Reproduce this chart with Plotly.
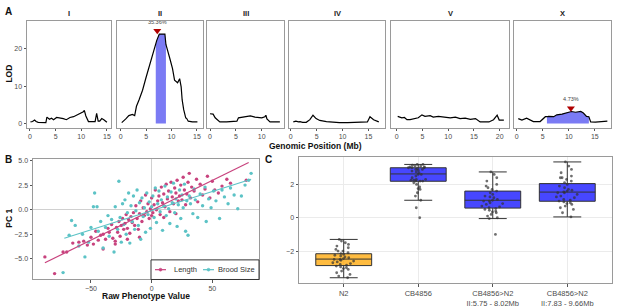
import plotly.graph_objects as go

# ---------------- DATA ----------------
chrom_names = ["I", "II", "III", "IV", "V", "X"]

chrI_pos = [0.1, 0.5, 0.9, 1.2, 1.6, 2.5, 3.1, 3.3, 3.8, 4.2, 4.6, 5.2, 5.8, 6.5, 7.1, 7.8, 8.5, 9.1, 9.6, 10.1, 10.4, 10.6, 10.9, 11.4, 12.0, 12.7, 13.0, 13.3, 13.6, 14.0, 14.4, 14.8, 15.0]
chrI_lod = [0.4, 0.5, 0.9, 0.5, 0.3, 0.2, 0.2, 1.7, 1.1, 1.4, 1.0, 1.6, 1.5, 1.3, 1.0, 1.6, 1.8, 2.2, 2.5, 2.8, 3.1, 3.5, 2.0, 0.5, 0.5, 0.5, 2.7, 0.6, 0.6, 1.3, 1.0, 0.4, 0.3]

chrII_pos = [0.2, 0.6, 1.0, 1.6, 2.3, 2.75, 3.1, 3.6, 4.3, 5.0, 5.6, 6.3, 6.6, 6.9, 7.1, 7.6, 8.2, 8.7, 8.9, 9.2, 9.7, 10.2, 10.6, 11.2, 11.6, 11.9, 12.1, 12.4, 12.8, 13.0, 13.3, 14.1, 15.1]
chrII_lod = [0.2, 0.6, 1.2, 2.1, 2.4, 2.1, 4.6, 6.3, 8.9, 12.4, 15.1, 18.6, 20.3, 21.2, 22.3, 24.0, 24.0, 24.0, 21.2, 19.5, 17.3, 14.7, 11.6, 10.9, 12.0, 9.8, 6.3, 3.7, 1.5, 1.3, 0.6, 0.4, 0.4]

chrIII_pos = [0.0, 0.6, 1.0, 1.4, 1.9, 3.2, 4.5, 5.2, 5.5, 6.5, 7.8, 8.7, 10.0, 10.6, 10.8, 11.0, 11.6, 13.5]
chrIII_lod = [2.6, 2.5, 1.5, 0.9, 0.4, 0.4, 0.5, 0.6, 1.5, 1.8, 2.0, 1.7, 1.5, 1.8, 2.2, 1.2, 0.4, 0.4]

chrIV_pos = [0.5, 1.0, 1.5, 1.8, 2.3, 3.0, 3.7, 4.3, 4.9, 5.6, 6.9, 8.0, 9.4, 11.0, 13.2, 14.8, 15.3, 16.0, 17.0]
chrIV_lod = [0.4, 0.6, 0.4, 0.5, 0.3, 0.3, 1.0, 2.2, 1.3, 0.8, 0.5, 0.3, 0.2, 0.2, 0.2, 0.4, 1.8, 1.0, 0.4]

chrV_pos = [0.2, 1.0, 1.5, 2.0, 2.6, 3.6, 4.2, 4.9, 5.5, 6.5, 7.1, 8.1, 9.1, 10.4, 11.4, 12.3, 13.3, 14.3, 15.3, 16.2, 17.9, 18.8, 19.5, 19.9, 20.8]
chrV_lod = [1.9, 1.5, 1.6, 1.0, 1.0, 1.3, 1.5, 2.3, 1.9, 2.1, 1.7, 1.9, 1.7, 1.5, 1.7, 1.3, 1.4, 1.1, 1.3, 0.4, 0.4, 1.0, 2.2, 0.9, 0.9]

chrX_pos = [0.3, 1.0, 1.9, 2.6, 3.2, 4.5, 5.5, 5.8, 6.1, 7.1, 7.7, 8.7, 9.7, 10.5, 11.3, 12.3, 12.8, 13.4, 13.85, 14.2, 15.1, 16.1, 17.4]
chrX_lod = [1.3, 0.9, 1.4, 1.0, 0.5, 0.5, 1.8, 1.8, 1.9, 1.8, 2.3, 2.5, 2.8, 3.2, 3.0, 3.2, 2.8, 1.9, 1.8, 0.4, 0.35, 0.5, 0.6]

profile_pos = [chrI_pos, chrII_pos, chrIII_pos, chrIV_pos, chrV_pos, chrX_pos]
profile_lod = [chrI_lod, chrII_lod, chrIII_lod, chrIV_lod, chrV_lod, chrX_lod]

peak_chrom = ["II", "X"]
peak_pos = [7.2, 10.4]
peak_lod = [24.0, 3.2]
peak_var_exp = ["35.36%", "4.73%"]
ci_left = [6.9, 5.8]
ci_right = [8.9, 13.85]

# Panel B: raw phenotype vs PC1
length_x = [-88, -80, -73, -70, -65, -60, -56, -53, -50, -48, -46, -44, -42, -40, -40, -38, -36, -35, -33, -32, -30, -30, -29, -28, -27, -26, -25, -24, -23, -22, -21, -20, -20, -19, -18, -17, -16, -15, -14, -13, -12, -11, -10, -10, -9, -8, -7, -6, -5, -4, -3, -2, -1, 0, 0, 1, 2, 3, 4, 5, 6, 7, 8, 9, 10, 10, 11, 12, 13, 14, 15, 16, 17, 18, 19, 20, 20, 21, 22, 23, 24, 25, 26, 27, 28, 29, 30, 31, 32, 33, 35, 37, 38, 40, 42, 44, 46, 48, 50, 52, 55, 58, 62, 65, 78]
length_y = [-4.8, -6.5, -4.3, -4.3, -3.4, -3.3, -3.2, -3.6, -2.8, -3.5, -2.2, -3.1, -2.6, -2.5, -4.0, -3.0, -1.9, -2.3, -1.5, -2.9, -3.2, -3.5, -1.8, -2.3, -1.2, -2.7, -1.6, -0.9, -2.0, -1.4, -0.5, -1.9, -3.0, -1.0, -2.4, -0.7, -1.3, -0.3, -1.6, 0.4, -0.9, -2.0, -0.4, -2.8, 0.9, -1.2, 0.2, -0.6, 1.5, -0.2, 0.6, -0.9, 0.1, 1.2, -0.6, -0.3, 0.5, 2.0, 0.0, 0.9, 1.4, -0.5, 2.3, 0.7, 1.6, -0.8, 0.3, 2.6, 1.1, 1.9, -0.2, 2.8, 1.3, 0.6, 2.2, 1.7, -0.4, 3.0, 0.9, 1.4, 2.5, 1.0, 3.3, 2.0, 0.5, 1.6, 2.8, 3.7, 1.2, 2.3, 1.9, 3.1, 0.8, 2.6, 1.5, 2.1, 3.4, 1.2, 2.9, 2.0, 1.7, 2.4, 3.1, 2.7, 3.0]

brood_x = [-73, -68, -66, -63, -60, -57, -55, -52, -50, -48, -47, -45, -44, -42, -40, -38, -36, -35, -33, -31, -30, -28, -27, -26, -25, -24, -23, -22, -21, -20, -19, -18, -17, -16, -15, -14, -13, -12, -11, -10, -9, -8, -7, -6, -5, -4, -3, -2, -1, 0, 1, 2, 3, 4, 5, 6, 7, 8, 9, 10, 11, 12, 13, 14, 15, 16, 17, 18, 19, 20, 21, 22, 23, 24, 25, 26, 27, 28, 29, 30, 31, 32, 34, 35, 36, 38, 40, 42, 44, 45, 47, 49, 51, 53, 56, 58, 60, 63, 65, 68, 71, 74, 77, 80, 82]
brood_y = [-6.4, -2.6, -1.1, -1.6, -3.7, -2.5, -4.8, -3.3, -1.8, 0.3, 1.7, 0.3, -2.2, -1.2, -3.9, -1.8, -0.6, -2.7, -1.0, -4.3, 0.3, -2.0, 2.9, -0.8, -3.3, 0.6, -1.5, 1.0, -2.5, -0.3, 1.7, -3.4, 0.4, -1.2, 1.4, -2.0, -0.1, 2.0, -1.6, 0.7, -3.0, 1.2, -0.7, 0.2, -2.3, 1.7, -0.5, 0.8, -1.9, 0.3, 1.4, -0.8, 2.2, -1.3, 0.6, 1.9, -0.2, 1.0, -2.1, 0.4, 2.4, -0.6, 1.3, 0.1, -1.4, 1.8, 0.7, 2.7, -0.3, 1.1, -1.7, 0.5, 2.0, -0.9, 1.5, 0.2, 2.6, -2.2, 0.9, -2.6, 1.4, 0.6, -0.4, 2.1, 1.0, -0.8, 1.6, 0.4, 2.3, -1.2, 1.1, 0.2, 1.9, 0.9, -0.9, 2.0, 1.3, 0.6, 2.2, 1.5, 0.1, 1.4, 2.5, 3.0, 3.7]

length_fit_x = [-88, 80]
length_fit_y = [-5.4, 4.8]
brood_fit_x = [-72, 82]
brood_fit_y = [-2.9, 3.1]
legend_names = ["Length", "Brood Size"]

# Panel C: NIL validation
strain_labels = ["N2", "CB4856", "CB4856>N2<br>II:5.75 - 8.02Mb", "CB4856>N2<br>II:7.83 - 9.66Mb"]
box_q1 = [-2.87, 2.19, 0.58, 0.99]
box_median = [-2.48, 2.63, 1.05, 1.54]
box_q3 = [-2.16, 3.0, 1.6, 2.05]
box_low = [-3.6, 1.05, -0.05, 0.05]
box_high = [-1.3, 3.2, 2.75, 3.35]
n2_pc1 = [-1.3, -1.4, -1.5, -1.6, -1.7, -1.8, -1.9, -2.0, -2.0, -2.1, -2.15, -2.2, -2.25, -2.3, -2.35, -2.4, -2.45, -2.5, -2.5, -2.55, -2.6, -2.65, -2.7, -2.75, -2.8, -2.85, -2.9, -2.95, -3.0, -3.05, -3.1, -3.2, -3.3, -3.4, -3.5, -3.6]
cb_pc1 = [0.0, 0.6, 1.05, 1.3, 1.5, 1.7, 1.85, 2.0, 2.1, 2.2, 2.2, 2.25, 2.3, 2.3, 2.4, 2.5, 2.6, 2.7, 2.8, 2.85, 2.9, 2.95, 3.0, 3.0, 3.0, 3.05, 3.05, 3.1, 3.1, 3.15, 3.2, 3.2, 2.2, 2.25, 2.6, 2.75, 1.75, 2.9]
nil1_pc1 = [-1.0, -0.05, 0.0, 0.1, 0.2, 0.3, 0.4, 0.45, 0.5, 0.55, 0.6, 0.65, 0.7, 0.8, 0.9, 1.0, 1.0, 1.05, 1.1, 1.2, 1.3, 1.4, 1.5, 1.6, 1.7, 1.8, 1.9, 2.0, 2.2, 2.4, 2.6, 2.75, 0.35, 0.85, 1.25]
nil2_pc1 = [0.05, 0.3, 0.5, 0.6, 0.7, 0.8, 0.85, 0.9, 1.0, 1.05, 1.1, 1.2, 1.3, 1.4, 1.5, 1.5, 1.55, 1.6, 1.7, 1.8, 1.9, 2.0, 2.1, 2.2, 2.3, 2.4, 2.5, 2.7, 2.9, 3.1, 3.35, 0.95, 1.25, 1.65, 2.4]
strain_points = [n2_pc1, cb_pc1, nil1_pc1, nil2_pc1]

# ---------------- LAYOUT HELPERS ----------------
W, H = 617, 308
FONT = "Liberation Sans, Arial, Helvetica, sans-serif"
TICKC = "#4d4d4d"
BORDER = "#9a9a9a"


def fx(p):
    return p / W


def fy(p):
    return 1 - p / H


fig = go.Figure()
layout = dict(
    width=W, height=H, autosize=False,
    margin=dict(l=0, r=0, t=0, b=0),
    paper_bgcolor="white", plot_bgcolor="white",
    font=dict(family=FONT, size=7, color=TICKC),
    boxmode="overlay", showlegend=False,
)

common_axis = dict(
    showline=True, mirror=True, linecolor=BORDER, linewidth=1,
    ticks="outside", ticklen=2.5, tickcolor="#555", tickwidth=0.8,
    tickfont=dict(size=7, color=TICKC, family=FONT),
    showgrid=False, zeroline=False,
)

# ---------------- PANEL A ----------------
A_px = [(27, 111), (117, 203), (207, 284), (289, 385), (391, 509), (514, 611)]
A_xrange = [[-0.58, 15.8], [-0.73, 16.2], [-0.58, 14.3], [-0.33, 18.2], [-1.1, 21.8], [-0.52, 18.1]]
A_top, A_bot = 19, 128
fill_col = "#7b7bf4"

for i, name in enumerate(chrom_names):
    k = i + 1
    xa, ya = f"x{k}", f"y{k}"
    layout[f"xaxis{k}"] = dict(common_axis, domain=[fx(A_px[i][0]), fx(A_px[i][1])],
                               anchor=ya, range=A_xrange[i], dtick=5, tick0=0)
    layout[f"yaxis{k}"] = dict(common_axis, domain=[fy(A_bot), fy(A_top)], anchor=xa,
                               range=[-1.1, 27.6], dtick=10, tick0=0,
                               showticklabels=(i == 0), ticks="outside" if i == 0 else "")
    pos, lod = profile_pos[i], profile_lod[i]
    if name in peak_chrom:
        j = peak_chrom.index(name)
        fxs = [p for p in pos if ci_left[j] <= p <= ci_right[j]]
        fys = [l for p, l in zip(pos, lod) if ci_left[j] <= p <= ci_right[j]]
        fig.add_trace(go.Scatter(x=fxs, y=fys, mode="lines", fill="tozeroy",
                                 fillcolor=fill_col, line=dict(width=0, color=fill_col),
                                 xaxis=xa, yaxis=ya, hoverinfo="skip"))
    fig.add_trace(go.Scatter(x=pos, y=lod, mode="lines", line=dict(color="black", width=1.2),
                             xaxis=xa, yaxis=ya))
    if name in peak_chrom:
        j = peak_chrom.index(name)
        fig.add_trace(go.Scatter(x=[peak_pos[j]], y=[peak_lod[j] + 0.9], mode="markers+text",
                                 marker=dict(symbol="triangle-down", size=7, color="#b00000",
                                             line=dict(width=0)),
                                 text=[peak_var_exp[j]], textposition="top center",
                                 textfont=dict(size=5.5, color="#444", family=FONT),
                                 xaxis=xa, yaxis=ya, cliponaxis=False))

# ---------------- PANEL B ----------------
col_len = "#c8437e"
col_brood = "#5cc3c6"
layout["xaxis7"] = dict(common_axis, domain=[fx(33), fx(259)], anchor="y7",
                        range=[-97.8, 88.5], tickvals=[-50, 0, 50],
                        zeroline=True, zerolinecolor="#d0d0d0", zerolinewidth=1)
layout["yaxis7"] = dict(common_axis, domain=[fy(283), fy(160)], anchor="x7",
                        range=[-7.1, 5.17], tickvals=[-5, -2.5, 0, 2.5, 5], tickformat=".1f",
                        zeroline=True, zerolinecolor="#d0d0d0", zerolinewidth=1)

fig.add_trace(go.Scatter(x=length_x, y=length_y, mode="markers", name=legend_names[0],
                         marker=dict(color=col_len, size=3.4, line=dict(width=0)),
                         xaxis="x7", yaxis="y7"))
fig.add_trace(go.Scatter(x=brood_x, y=brood_y, mode="markers", name=legend_names[1],
                         marker=dict(color=col_brood, size=3.4, line=dict(width=0)),
                         xaxis="x7", yaxis="y7"))
fig.add_trace(go.Scatter(x=length_fit_x, y=length_fit_y, mode="lines",
                         line=dict(color=col_len, width=1.2), xaxis="x7", yaxis="y7"))
fig.add_trace(go.Scatter(x=brood_fit_x, y=brood_fit_y, mode="lines",
                         line=dict(color=col_brood, width=1.2), xaxis="x7", yaxis="y7"))

# compact key for panel B (box, key glyphs, labels)
shapes = []
key_box = (151, 263, 259, 283)
shapes.append(dict(type="rect", xref="paper", yref="paper",
                   x0=fx(key_box[0]), x1=fx(key_box[2]), y0=fy(key_box[3]), y1=fy(key_box[1]),
                   line=dict(color="#333", width=1), fillcolor="white", layer="above"))
key_items = [(155, col_len, legend_names[0]), (203, col_brood, legend_names[1])]
for kx, kc, kname in key_items:
    ky = fy(273)
    shapes.append(dict(type="line", xref="paper", yref="paper", x0=fx(kx), x1=fx(kx + 11),
                       y0=ky, y1=ky, line=dict(color=kc, width=1.2), layer="above"))
    shapes.append(dict(type="circle", xref="paper", yref="paper",
                       x0=fx(kx + 4), x1=fx(kx + 7), y0=fy(274.5), y1=fy(271.5),
                       line=dict(color=kc, width=0.5), fillcolor=kc, layer="above"))
layout["shapes"] = shapes

# ---------------- PANEL C ----------------
layout["xaxis8"] = dict(common_axis, domain=[fx(299), fx(612)], anchor="y8",
                        type="category", categoryorder="array", categoryarray=strain_labels,
                        range=[-0.6, 3.6], showgrid=True, gridcolor="#ebebeb", gridwidth=0.8,
                        tickfont=dict(size=7.5, color=TICKC, family=FONT))
layout["yaxis8"] = dict(common_axis, domain=[fy(287), fy(158)], anchor="x8",
                        range=[-3.94, 3.65], tickvals=[-2, 0, 2],
                        showgrid=True, gridcolor="#ebebeb", gridwidth=0.8)

box_fill = ["rgba(255,165,0,0.75)", "rgba(0,0,255,0.72)", "rgba(0,0,255,0.72)", "rgba(0,0,255,0.72)"]
for i, lab in enumerate(strain_labels):
    fig.add_trace(go.Box(x=[lab], q1=[box_q1[i]], median=[box_median[i]], q3=[box_q3[i]],
                         lowerfence=[box_low[i]], upperfence=[box_high[i]],
                         fillcolor=box_fill[i], line=dict(color="#333", width=1),
                         width=0.75, boxpoints=False, xaxis="x8", yaxis="y8"))
for i, lab in enumerate(strain_labels):
    pts = strain_points[i]
    fig.add_trace(go.Box(x=[lab] * len(pts), y=pts, boxpoints="all", jitter=0.4, pointpos=0,
                         fillcolor="rgba(0,0,0,0)", line=dict(width=0, color="rgba(0,0,0,0)"),
                         marker=dict(size=2.8, color="rgba(50,50,50,0.7)"),
                         width=0.75, xaxis="x8", yaxis="y8"))

# ---------------- ANNOTATIONS ----------------
ann = []


def txt(x, y, s, size=8.5, angle=0, color="#111", bold=True, xanchor="center"):
    ann.append(dict(x=fx(x), y=fy(y), xref="paper", yref="paper", showarrow=False,
                    text=f"<b>{s}</b>" if bold else s, textangle=angle, xanchor=xanchor,
                    yanchor="middle", font=dict(size=size, color=color, family=FONT)))


txt(8, 10, "A", size=10)
txt(8, 161, "B", size=10)
txt(268, 161, "C", size=10)
for i, name in enumerate(chrom_names):
    txt((A_px[i][0] + A_px[i][1]) / 2, 12, name, size=7.5, color="#1a1a1a")
txt(9, 73, "LOD", angle=-90)
txt(315, 147, "Genomic Position (Mb)")
txt(9, 221, "PC 1", angle=-90)
txt(146, 300, "Raw Phenotype Value")
txt(172, 273, legend_names[0], size=7.5, color="#333", bold=False, xanchor="left")
txt(216, 273, legend_names[1], size=7.5, color="#333", bold=False, xanchor="left")
layout["annotations"] = ann

fig.update_layout(**layout)
fig.write_html("out.html", config={"displayModeBar": False},
               post_script="document.body.style.margin='0px';document.body.style.overflow='hidden';")
